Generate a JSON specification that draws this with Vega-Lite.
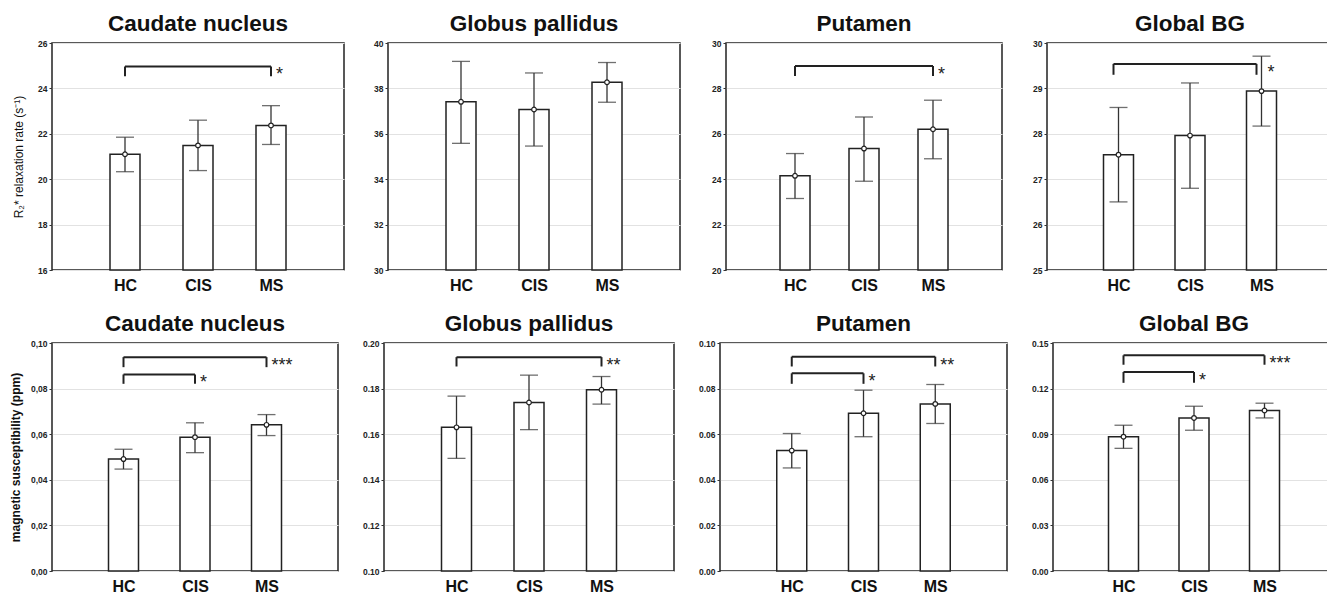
{
  "$schema": "https://vega.github.io/schema/vega-lite/v6.json",
  "padding": {"left": 8, "top": 11, "right": 0, "bottom": 0},
  "autosize": {"type": "pad"},
  "datasets": {
    "bars": [
      {"panel": "p1", "group": "HC", "mean": 21.1, "lo": 20.33, "hi": 21.85},
      {"panel": "p1", "group": "CIS", "mean": 21.49, "lo": 20.38, "hi": 22.6},
      {"panel": "p1", "group": "MS", "mean": 22.37, "lo": 21.53, "hi": 23.24},
      {"panel": "p2", "group": "HC", "mean": 37.41, "lo": 35.58, "hi": 39.19},
      {"panel": "p2", "group": "CIS", "mean": 37.07, "lo": 35.46, "hi": 38.68},
      {"panel": "p2", "group": "MS", "mean": 38.27, "lo": 37.39, "hi": 39.14},
      {"panel": "p3", "group": "HC", "mean": 24.15, "lo": 23.15, "hi": 25.13},
      {"panel": "p3", "group": "CIS", "mean": 25.35, "lo": 23.91, "hi": 26.74},
      {"panel": "p3", "group": "MS", "mean": 26.2, "lo": 24.9, "hi": 27.48},
      {"panel": "p4", "group": "HC", "mean": 27.54, "lo": 26.5, "hi": 28.58},
      {"panel": "p4", "group": "CIS", "mean": 27.96, "lo": 26.8, "hi": 29.12},
      {"panel": "p4", "group": "MS", "mean": 28.94, "lo": 28.17, "hi": 29.71},
      {"panel": "p5", "group": "HC", "mean": 0.0491, "lo": 0.0447, "hi": 0.0534},
      {"panel": "p5", "group": "CIS", "mean": 0.0587, "lo": 0.0519, "hi": 0.065},
      {"panel": "p5", "group": "MS", "mean": 0.0641, "lo": 0.0594, "hi": 0.0686},
      {"panel": "p6", "group": "HC", "mean": 0.163, "lo": 0.1494, "hi": 0.1767},
      {"panel": "p6", "group": "CIS", "mean": 0.1739, "lo": 0.162, "hi": 0.1859},
      {"panel": "p6", "group": "MS", "mean": 0.1795, "lo": 0.1732, "hi": 0.1853},
      {"panel": "p7", "group": "HC", "mean": 0.0528, "lo": 0.0452, "hi": 0.0603},
      {"panel": "p7", "group": "CIS", "mean": 0.0692, "lo": 0.0589, "hi": 0.0793},
      {"panel": "p7", "group": "MS", "mean": 0.0733, "lo": 0.0647, "hi": 0.0818},
      {"panel": "p8", "group": "HC", "mean": 0.0884, "lo": 0.0807, "hi": 0.0959},
      {"panel": "p8", "group": "CIS", "mean": 0.1007, "lo": 0.0926, "hi": 0.1084},
      {"panel": "p8", "group": "MS", "mean": 0.1056, "lo": 0.1007, "hi": 0.1104}
    ],
    "brackets": [
      {"panel": "p1", "x1": "HC", "x2": "MS", "top": 24.97, "bottom": 24.53, "label": "*"},
      {"panel": "p3", "x1": "HC", "x2": "MS", "top": 28.99, "bottom": 28.55, "label": "*"},
      {"panel": "p4", "x1": "HC", "x2": "MS", "top": 29.54, "bottom": 29.3, "label": "*"},
      {"panel": "p5", "x1": "HC", "x2": "MS", "top": 0.0938, "bottom": 0.0894, "label": "***"},
      {"panel": "p5", "x1": "HC", "x2": "CIS", "top": 0.0862, "bottom": 0.0821, "label": "*"},
      {"panel": "p6", "x1": "HC", "x2": "MS", "top": 0.1938, "bottom": 0.1897, "label": "**"},
      {"panel": "p7", "x1": "HC", "x2": "MS", "top": 0.094, "bottom": 0.0897, "label": "**"},
      {"panel": "p7", "x1": "HC", "x2": "CIS", "top": 0.0867, "bottom": 0.0821, "label": "*"},
      {"panel": "p8", "x1": "HC", "x2": "MS", "top": 0.1419, "bottom": 0.1357, "label": "***"},
      {"panel": "p8", "x1": "HC", "x2": "CIS", "top": 0.1309, "bottom": 0.1238, "label": "*"}
    ]
  },
  "vconcat": [
    {
      "spacing": 22,
      "hconcat": [
        {
          "width": 292, "height": 227,
          "title": {"text": "Caudate nucleus"},
          "layer": [
            {"data": {"name": "bars"}, "transform": [{"filter": "datum.panel === 'p1'"}],
             "layer": [
              {"mark": {"type": "bar", "width": 30, "fill": "white", "stroke": "#222", "strokeWidth": 1.5},
               "encoding": {
                "x": {"field": "group", "type": "nominal", "scale": {"type": "point", "padding": 1, "domain": ["HC", "CIS", "MS"]}, "axis": {"title": null, "labelAngle": 0}},
                "y": {"field": "mean", "type": "quantitative", "scale": {"domain": [16, 26], "nice": false, "zero": false}, "axis": {"title": "R₂* relaxation rate (s⁻¹)", "titleFontWeight": "normal", "values": [16, 18, 20, 22, 24, 26], "format": "d", "minExtent": 22, "maxExtent": 22}},
                "y2": {"datum": 16}}},
              {"mark": {"type": "rule", "color": "#333", "strokeWidth": 1.3}, "encoding": {"x": {"field": "group", "type": "nominal"}, "y": {"field": "lo", "type": "quantitative"}, "y2": {"field": "hi"}}},
              {"mark": {"type": "tick", "color": "#333", "size": 18, "thickness": 1.3}, "encoding": {"x": {"field": "group", "type": "nominal"}, "y": {"field": "lo", "type": "quantitative"}}},
              {"mark": {"type": "tick", "color": "#333", "size": 18, "thickness": 1.3}, "encoding": {"x": {"field": "group", "type": "nominal"}, "y": {"field": "hi", "type": "quantitative"}}},
              {"mark": {"type": "point", "filled": true, "fill": "white", "stroke": "#222", "strokeWidth": 1.2, "size": 22, "opacity": 1}, "encoding": {"x": {"field": "group", "type": "nominal"}, "y": {"field": "mean", "type": "quantitative"}}}
             ]},
            {"data": {"name": "brackets"}, "transform": [{"filter": "datum.panel === 'p1'"}],
             "layer": [
              {"mark": {"type": "rule", "color": "#222", "strokeWidth": 2}, "encoding": {"x": {"field": "x1", "type": "nominal"}, "x2": {"field": "x2"}, "y": {"field": "top", "type": "quantitative"}}},
              {"mark": {"type": "rule", "color": "#222", "strokeWidth": 2}, "encoding": {"x": {"field": "x1", "type": "nominal"}, "y": {"field": "top", "type": "quantitative"}, "y2": {"field": "bottom"}}},
              {"mark": {"type": "rule", "color": "#222", "strokeWidth": 2}, "encoding": {"x": {"field": "x2", "type": "nominal"}, "y": {"field": "top", "type": "quantitative"}, "y2": {"field": "bottom"}}},
              {"mark": {"type": "text", "align": "left", "baseline": "middle", "dx": 5, "dy": 9, "fontSize": 18, "color": "#222"}, "encoding": {"x": {"field": "x2", "type": "nominal"}, "y": {"field": "top", "type": "quantitative"}, "text": {"field": "label"}}}
             ]}
          ]
        },
        {
          "width": 292, "height": 227,
          "title": {"text": "Globus pallidus"},
          "layer": [
            {"data": {"name": "bars"}, "transform": [{"filter": "datum.panel === 'p2'"}],
             "layer": [
              {"mark": {"type": "bar", "width": 30, "fill": "white", "stroke": "#222", "strokeWidth": 1.5},
               "encoding": {
                "x": {"field": "group", "type": "nominal", "scale": {"type": "point", "padding": 1, "domain": ["HC", "CIS", "MS"]}, "axis": {"title": null, "labelAngle": 0}},
                "y": {"field": "mean", "type": "quantitative", "scale": {"domain": [30, 40], "nice": false, "zero": false}, "axis": {"title": null, "values": [30, 32, 34, 36, 38, 40], "format": "d", "minExtent": 20, "maxExtent": 20}},
                "y2": {"datum": 30}}},
              {"mark": {"type": "rule", "color": "#333", "strokeWidth": 1.3}, "encoding": {"x": {"field": "group", "type": "nominal"}, "y": {"field": "lo", "type": "quantitative"}, "y2": {"field": "hi"}}},
              {"mark": {"type": "tick", "color": "#333", "size": 18, "thickness": 1.3}, "encoding": {"x": {"field": "group", "type": "nominal"}, "y": {"field": "lo", "type": "quantitative"}}},
              {"mark": {"type": "tick", "color": "#333", "size": 18, "thickness": 1.3}, "encoding": {"x": {"field": "group", "type": "nominal"}, "y": {"field": "hi", "type": "quantitative"}}},
              {"mark": {"type": "point", "filled": true, "fill": "white", "stroke": "#222", "strokeWidth": 1.2, "size": 22, "opacity": 1}, "encoding": {"x": {"field": "group", "type": "nominal"}, "y": {"field": "mean", "type": "quantitative"}}}
             ]}
          ]
        },
        {
          "width": 276, "height": 227,
          "title": {"text": "Putamen"},
          "layer": [
            {"data": {"name": "bars"}, "transform": [{"filter": "datum.panel === 'p3'"}],
             "layer": [
              {"mark": {"type": "bar", "width": 30, "fill": "white", "stroke": "#222", "strokeWidth": 1.5},
               "encoding": {
                "x": {"field": "group", "type": "nominal", "scale": {"type": "point", "padding": 1, "domain": ["HC", "CIS", "MS"]}, "axis": {"title": null, "labelAngle": 0}},
                "y": {"field": "mean", "type": "quantitative", "scale": {"domain": [20, 30], "nice": false, "zero": false}, "axis": {"title": null, "values": [20, 22, 24, 26, 28, 30], "format": "d", "minExtent": 22, "maxExtent": 22}},
                "y2": {"datum": 20}}},
              {"mark": {"type": "rule", "color": "#333", "strokeWidth": 1.3}, "encoding": {"x": {"field": "group", "type": "nominal"}, "y": {"field": "lo", "type": "quantitative"}, "y2": {"field": "hi"}}},
              {"mark": {"type": "tick", "color": "#333", "size": 18, "thickness": 1.3}, "encoding": {"x": {"field": "group", "type": "nominal"}, "y": {"field": "lo", "type": "quantitative"}}},
              {"mark": {"type": "tick", "color": "#333", "size": 18, "thickness": 1.3}, "encoding": {"x": {"field": "group", "type": "nominal"}, "y": {"field": "hi", "type": "quantitative"}}},
              {"mark": {"type": "point", "filled": true, "fill": "white", "stroke": "#222", "strokeWidth": 1.2, "size": 22, "opacity": 1}, "encoding": {"x": {"field": "group", "type": "nominal"}, "y": {"field": "mean", "type": "quantitative"}}}
             ]},
            {"data": {"name": "brackets"}, "transform": [{"filter": "datum.panel === 'p3'"}],
             "layer": [
              {"mark": {"type": "rule", "color": "#222", "strokeWidth": 2}, "encoding": {"x": {"field": "x1", "type": "nominal"}, "x2": {"field": "x2"}, "y": {"field": "top", "type": "quantitative"}}},
              {"mark": {"type": "rule", "color": "#222", "strokeWidth": 2}, "encoding": {"x": {"field": "x1", "type": "nominal"}, "y": {"field": "top", "type": "quantitative"}, "y2": {"field": "bottom"}}},
              {"mark": {"type": "rule", "color": "#222", "strokeWidth": 2}, "encoding": {"x": {"field": "x2", "type": "nominal"}, "y": {"field": "top", "type": "quantitative"}, "y2": {"field": "bottom"}}},
              {"mark": {"type": "text", "align": "left", "baseline": "middle", "dx": 5, "dy": 9, "fontSize": 18, "color": "#222"}, "encoding": {"x": {"field": "x2", "type": "nominal"}, "y": {"field": "top", "type": "quantitative"}, "text": {"field": "label"}}}
             ]}
          ]
        },
        {
          "width": 286, "height": 227,
          "title": {"text": "Global BG"},
          "layer": [
            {"data": {"name": "bars"}, "transform": [{"filter": "datum.panel === 'p4'"}],
             "layer": [
              {"mark": {"type": "bar", "width": 30, "fill": "white", "stroke": "#222", "strokeWidth": 1.5},
               "encoding": {
                "x": {"field": "group", "type": "nominal", "scale": {"type": "point", "padding": 1, "domain": ["HC", "CIS", "MS"]}, "axis": {"title": null, "labelAngle": 0}},
                "y": {"field": "mean", "type": "quantitative", "scale": {"domain": [25, 30], "nice": false, "zero": false}, "axis": {"title": null, "values": [25, 26, 27, 28, 29, 30], "format": "d", "minExtent": 21, "maxExtent": 21}},
                "y2": {"datum": 25}}},
              {"mark": {"type": "rule", "color": "#333", "strokeWidth": 1.3}, "encoding": {"x": {"field": "group", "type": "nominal"}, "y": {"field": "lo", "type": "quantitative"}, "y2": {"field": "hi"}}},
              {"mark": {"type": "tick", "color": "#333", "size": 18, "thickness": 1.3}, "encoding": {"x": {"field": "group", "type": "nominal"}, "y": {"field": "lo", "type": "quantitative"}}},
              {"mark": {"type": "tick", "color": "#333", "size": 18, "thickness": 1.3}, "encoding": {"x": {"field": "group", "type": "nominal"}, "y": {"field": "hi", "type": "quantitative"}}},
              {"mark": {"type": "point", "filled": true, "fill": "white", "stroke": "#222", "strokeWidth": 1.2, "size": 22, "opacity": 1}, "encoding": {"x": {"field": "group", "type": "nominal"}, "y": {"field": "mean", "type": "quantitative"}}}
             ]},
            {"data": {"name": "brackets"}, "transform": [{"filter": "datum.panel === 'p4'"}],
             "layer": [
              {"mark": {"type": "rule", "color": "#222", "strokeWidth": 2, "xOffset": -5, "x2Offset": -5}, "encoding": {"x": {"field": "x1", "type": "nominal"}, "x2": {"field": "x2"}, "y": {"field": "top", "type": "quantitative"}}},
              {"mark": {"type": "rule", "color": "#222", "strokeWidth": 2, "xOffset": -5}, "encoding": {"x": {"field": "x1", "type": "nominal"}, "y": {"field": "top", "type": "quantitative"}, "y2": {"field": "bottom"}}},
              {"mark": {"type": "rule", "color": "#222", "strokeWidth": 2, "xOffset": -5}, "encoding": {"x": {"field": "x2", "type": "nominal"}, "y": {"field": "top", "type": "quantitative"}, "y2": {"field": "bottom"}}},
              {"mark": {"type": "text", "align": "left", "baseline": "middle", "dx": 6, "dy": 9, "fontSize": 18, "color": "#222"}, "encoding": {"x": {"field": "x2", "type": "nominal"}, "y": {"field": "top", "type": "quantitative"}, "text": {"field": "label"}}}
             ]}
          ]
        }
      ]
    },
    {
      "spacing": 22,
      "hconcat": [
        {
          "width": 286, "height": 228,
          "title": {"text": "Caudate nucleus"},
          "layer": [
            {"data": {"name": "bars"}, "transform": [{"filter": "datum.panel === 'p5'"}],
             "layer": [
              {"mark": {"type": "bar", "width": 30, "fill": "white", "stroke": "#222", "strokeWidth": 1.5},
               "encoding": {
                "x": {"field": "group", "type": "nominal", "scale": {"type": "point", "padding": 1, "domain": ["HC", "CIS", "MS"]}, "axis": {"title": null, "labelAngle": 0}},
                "y": {"field": "mean", "type": "quantitative", "scale": {"domain": [0, 0.1], "nice": false, "zero": false}, "axis": {"title": "magnetic susceptibility (ppm)", "values": [0, 0.02, 0.04, 0.06, 0.08, 0.1], "labelExpr": "replace(format(datum.value, '.2f'), '.', ',')", "minExtent": 25, "maxExtent": 25}},
                "y2": {"datum": 0}}},
              {"mark": {"type": "rule", "color": "#333", "strokeWidth": 1.3}, "encoding": {"x": {"field": "group", "type": "nominal"}, "y": {"field": "lo", "type": "quantitative"}, "y2": {"field": "hi"}}},
              {"mark": {"type": "tick", "color": "#333", "size": 18, "thickness": 1.3}, "encoding": {"x": {"field": "group", "type": "nominal"}, "y": {"field": "lo", "type": "quantitative"}}},
              {"mark": {"type": "tick", "color": "#333", "size": 18, "thickness": 1.3}, "encoding": {"x": {"field": "group", "type": "nominal"}, "y": {"field": "hi", "type": "quantitative"}}},
              {"mark": {"type": "point", "filled": true, "fill": "white", "stroke": "#222", "strokeWidth": 1.2, "size": 22, "opacity": 1}, "encoding": {"x": {"field": "group", "type": "nominal"}, "y": {"field": "mean", "type": "quantitative"}}}
             ]},
            {"data": {"name": "brackets"}, "transform": [{"filter": "datum.panel === 'p5'"}],
             "layer": [
              {"mark": {"type": "rule", "color": "#222", "strokeWidth": 2}, "encoding": {"x": {"field": "x1", "type": "nominal"}, "x2": {"field": "x2"}, "y": {"field": "top", "type": "quantitative"}}},
              {"mark": {"type": "rule", "color": "#222", "strokeWidth": 2}, "encoding": {"x": {"field": "x1", "type": "nominal"}, "y": {"field": "top", "type": "quantitative"}, "y2": {"field": "bottom"}}},
              {"mark": {"type": "rule", "color": "#222", "strokeWidth": 2}, "encoding": {"x": {"field": "x2", "type": "nominal"}, "y": {"field": "top", "type": "quantitative"}, "y2": {"field": "bottom"}}},
              {"mark": {"type": "text", "align": "left", "baseline": "middle", "dx": 5, "dy": 9, "fontSize": 18, "color": "#222"}, "encoding": {"x": {"field": "x2", "type": "nominal"}, "y": {"field": "top", "type": "quantitative"}, "text": {"field": "label"}}}
             ]}
          ]
        },
        {
          "width": 290, "height": 228,
          "title": {"text": "Globus pallidus"},
          "layer": [
            {"data": {"name": "bars"}, "transform": [{"filter": "datum.panel === 'p6'"}],
             "layer": [
              {"mark": {"type": "bar", "width": 30, "fill": "white", "stroke": "#222", "strokeWidth": 1.5},
               "encoding": {
                "x": {"field": "group", "type": "nominal", "scale": {"type": "point", "padding": 1, "domain": ["HC", "CIS", "MS"]}, "axis": {"title": null, "labelAngle": 0}},
                "y": {"field": "mean", "type": "quantitative", "scale": {"domain": [0.1, 0.2], "nice": false, "zero": false}, "axis": {"title": null, "values": [0.1, 0.12, 0.14, 0.16, 0.18, 0.2], "format": ".2f", "minExtent": 22, "maxExtent": 22}},
                "y2": {"datum": 0.1}}},
              {"mark": {"type": "rule", "color": "#333", "strokeWidth": 1.3}, "encoding": {"x": {"field": "group", "type": "nominal"}, "y": {"field": "lo", "type": "quantitative"}, "y2": {"field": "hi"}}},
              {"mark": {"type": "tick", "color": "#333", "size": 18, "thickness": 1.3}, "encoding": {"x": {"field": "group", "type": "nominal"}, "y": {"field": "lo", "type": "quantitative"}}},
              {"mark": {"type": "tick", "color": "#333", "size": 18, "thickness": 1.3}, "encoding": {"x": {"field": "group", "type": "nominal"}, "y": {"field": "hi", "type": "quantitative"}}},
              {"mark": {"type": "point", "filled": true, "fill": "white", "stroke": "#222", "strokeWidth": 1.2, "size": 22, "opacity": 1}, "encoding": {"x": {"field": "group", "type": "nominal"}, "y": {"field": "mean", "type": "quantitative"}}}
             ]},
            {"data": {"name": "brackets"}, "transform": [{"filter": "datum.panel === 'p6'"}],
             "layer": [
              {"mark": {"type": "rule", "color": "#222", "strokeWidth": 2}, "encoding": {"x": {"field": "x1", "type": "nominal"}, "x2": {"field": "x2"}, "y": {"field": "top", "type": "quantitative"}}},
              {"mark": {"type": "rule", "color": "#222", "strokeWidth": 2}, "encoding": {"x": {"field": "x1", "type": "nominal"}, "y": {"field": "top", "type": "quantitative"}, "y2": {"field": "bottom"}}},
              {"mark": {"type": "rule", "color": "#222", "strokeWidth": 2}, "encoding": {"x": {"field": "x2", "type": "nominal"}, "y": {"field": "top", "type": "quantitative"}, "y2": {"field": "bottom"}}},
              {"mark": {"type": "text", "align": "left", "baseline": "middle", "dx": 5, "dy": 9, "fontSize": 18, "color": "#222"}, "encoding": {"x": {"field": "x2", "type": "nominal"}, "y": {"field": "top", "type": "quantitative"}, "text": {"field": "label"}}}
             ]}
          ]
        },
        {
          "width": 287, "height": 228,
          "title": {"text": "Putamen"},
          "layer": [
            {"data": {"name": "bars"}, "transform": [{"filter": "datum.panel === 'p7'"}],
             "layer": [
              {"mark": {"type": "bar", "width": 30, "fill": "white", "stroke": "#222", "strokeWidth": 1.5},
               "encoding": {
                "x": {"field": "group", "type": "nominal", "scale": {"type": "point", "padding": 1, "domain": ["HC", "CIS", "MS"]}, "axis": {"title": null, "labelAngle": 0}},
                "y": {"field": "mean", "type": "quantitative", "scale": {"domain": [0, 0.1], "nice": false, "zero": false}, "axis": {"title": null, "values": [0, 0.02, 0.04, 0.06, 0.08, 0.1], "format": ".2f", "minExtent": 22, "maxExtent": 22}},
                "y2": {"datum": 0}}},
              {"mark": {"type": "rule", "color": "#333", "strokeWidth": 1.3}, "encoding": {"x": {"field": "group", "type": "nominal"}, "y": {"field": "lo", "type": "quantitative"}, "y2": {"field": "hi"}}},
              {"mark": {"type": "tick", "color": "#333", "size": 18, "thickness": 1.3}, "encoding": {"x": {"field": "group", "type": "nominal"}, "y": {"field": "lo", "type": "quantitative"}}},
              {"mark": {"type": "tick", "color": "#333", "size": 18, "thickness": 1.3}, "encoding": {"x": {"field": "group", "type": "nominal"}, "y": {"field": "hi", "type": "quantitative"}}},
              {"mark": {"type": "point", "filled": true, "fill": "white", "stroke": "#222", "strokeWidth": 1.2, "size": 22, "opacity": 1}, "encoding": {"x": {"field": "group", "type": "nominal"}, "y": {"field": "mean", "type": "quantitative"}}}
             ]},
            {"data": {"name": "brackets"}, "transform": [{"filter": "datum.panel === 'p7'"}],
             "layer": [
              {"mark": {"type": "rule", "color": "#222", "strokeWidth": 2}, "encoding": {"x": {"field": "x1", "type": "nominal"}, "x2": {"field": "x2"}, "y": {"field": "top", "type": "quantitative"}}},
              {"mark": {"type": "rule", "color": "#222", "strokeWidth": 2}, "encoding": {"x": {"field": "x1", "type": "nominal"}, "y": {"field": "top", "type": "quantitative"}, "y2": {"field": "bottom"}}},
              {"mark": {"type": "rule", "color": "#222", "strokeWidth": 2}, "encoding": {"x": {"field": "x2", "type": "nominal"}, "y": {"field": "top", "type": "quantitative"}, "y2": {"field": "bottom"}}},
              {"mark": {"type": "text", "align": "left", "baseline": "middle", "dx": 5, "dy": 9, "fontSize": 18, "color": "#222"}, "encoding": {"x": {"field": "x2", "type": "nominal"}, "y": {"field": "top", "type": "quantitative"}, "text": {"field": "label"}}}
             ]}
          ]
        },
        {
          "width": 282, "height": 228,
          "title": {"text": "Global BG"},
          "layer": [
            {"data": {"name": "bars"}, "transform": [{"filter": "datum.panel === 'p8'"}],
             "layer": [
              {"mark": {"type": "bar", "width": 30, "fill": "white", "stroke": "#222", "strokeWidth": 1.5},
               "encoding": {
                "x": {"field": "group", "type": "nominal", "scale": {"type": "point", "padding": 1, "domain": ["HC", "CIS", "MS"]}, "axis": {"title": null, "labelAngle": 0}},
                "y": {"field": "mean", "type": "quantitative", "scale": {"domain": [0, 0.15], "nice": false, "zero": false}, "axis": {"title": null, "values": [0, 0.03, 0.06, 0.09, 0.12, 0.15], "format": ".2f", "minExtent": 22, "maxExtent": 22}},
                "y2": {"datum": 0}}},
              {"mark": {"type": "rule", "color": "#333", "strokeWidth": 1.3}, "encoding": {"x": {"field": "group", "type": "nominal"}, "y": {"field": "lo", "type": "quantitative"}, "y2": {"field": "hi"}}},
              {"mark": {"type": "tick", "color": "#333", "size": 18, "thickness": 1.3}, "encoding": {"x": {"field": "group", "type": "nominal"}, "y": {"field": "lo", "type": "quantitative"}}},
              {"mark": {"type": "tick", "color": "#333", "size": 18, "thickness": 1.3}, "encoding": {"x": {"field": "group", "type": "nominal"}, "y": {"field": "hi", "type": "quantitative"}}},
              {"mark": {"type": "point", "filled": true, "fill": "white", "stroke": "#222", "strokeWidth": 1.2, "size": 22, "opacity": 1}, "encoding": {"x": {"field": "group", "type": "nominal"}, "y": {"field": "mean", "type": "quantitative"}}}
             ]},
            {"data": {"name": "brackets"}, "transform": [{"filter": "datum.panel === 'p8'"}],
             "layer": [
              {"mark": {"type": "rule", "color": "#222", "strokeWidth": 2}, "encoding": {"x": {"field": "x1", "type": "nominal"}, "x2": {"field": "x2"}, "y": {"field": "top", "type": "quantitative"}}},
              {"mark": {"type": "rule", "color": "#222", "strokeWidth": 2}, "encoding": {"x": {"field": "x1", "type": "nominal"}, "y": {"field": "top", "type": "quantitative"}, "y2": {"field": "bottom"}}},
              {"mark": {"type": "rule", "color": "#222", "strokeWidth": 2}, "encoding": {"x": {"field": "x2", "type": "nominal"}, "y": {"field": "top", "type": "quantitative"}, "y2": {"field": "bottom"}}},
              {"mark": {"type": "text", "align": "left", "baseline": "middle", "dx": 5, "dy": 9, "fontSize": 18, "color": "#222"}, "encoding": {"x": {"field": "x2", "type": "nominal"}, "y": {"field": "top", "type": "quantitative"}, "text": {"field": "label"}}}
             ]}
          ]
        }
      ]
    }
  ],
  "spacing": 17,
  "config": {
    "font": "Liberation Sans",
    "background": "white",
    "view": {"stroke": "#222", "strokeWidth": 1.5},
    "axis": {"domain": false},
    "axisX": {"grid": false, "labelFontSize": 16, "labelFontWeight": "bold", "labelColor": "#111", "tickSize": 0, "labelPadding": 7},
    "axisY": {"grid": true, "gridColor": "#e2e2e2", "gridWidth": 1, "tickColor": "#333", "tickSize": 3, "labelFontSize": 8.5, "labelFontWeight": "bold", "labelColor": "#222", "labelPadding": 2, "titleFontSize": 12, "titleFontWeight": "bold", "titleColor": "#111", "titlePadding": 5},
    "title": {"fontSize": 22.5, "fontWeight": "bold", "frame": "group", "anchor": "middle", "color": "#111", "offset": 4}
  }
}
